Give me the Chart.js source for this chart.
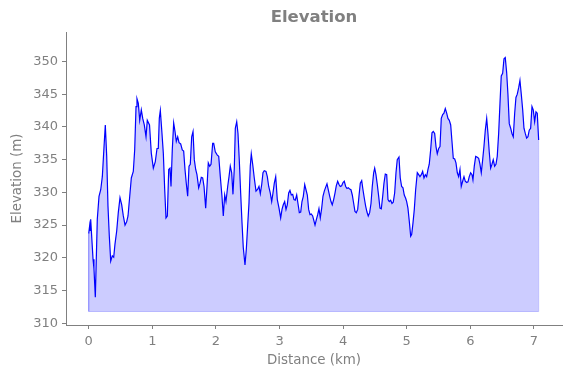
<!DOCTYPE html>
<html>
<head>
<meta charset="utf-8">
<script src="https://cdn.jsdelivr.net/npm/chart.js@4"></script>
<style>
  html, body { margin: 0; padding: 0; background: #fff; }
</style>
</head>
<body>
<canvas id="elevationChart" width="571" height="378"></canvas>
<script>
// distance along track (km) and elevation (m)
const distances = [
  0.000, 0.016, 0.025, 0.031, 0.068, 0.083, 0.104, 0.135, 0.162, 0.189, 0.214, 0.241, 0.261, 0.283, 0.303, 0.324,
  0.346, 0.371, 0.393, 0.413, 0.440, 0.465, 0.492, 0.519, 0.544, 0.571, 0.597, 0.618, 0.645, 0.670, 0.701, 0.723,
  0.744, 0.759, 0.780, 0.802, 0.827, 0.849, 0.874, 0.901, 0.921, 0.956, 0.984, 1.016, 1.047, 1.074, 1.094, 1.110,
  1.126, 1.152, 1.173, 1.195, 1.215, 1.236, 1.258, 1.278, 1.294, 1.314, 1.336, 1.357, 1.377, 1.399, 1.420, 1.446,
  1.471, 1.493, 1.514, 1.534, 1.556, 1.577, 1.597, 1.619, 1.640, 1.660, 1.682, 1.702, 1.729, 1.750, 1.770, 1.792,
  1.813, 1.839, 1.860, 1.880, 1.902, 1.923, 1.949, 1.965, 1.990, 2.022, 2.044, 2.069, 2.095, 2.116, 2.138, 2.158,
  2.185, 2.206, 2.226, 2.248, 2.268, 2.289, 2.305, 2.327, 2.347, 2.367, 2.389, 2.410, 2.430, 2.457, 2.478, 2.499,
  2.520, 2.540, 2.556, 2.578, 2.603, 2.630, 2.657, 2.677, 2.698, 2.720, 2.740, 2.760, 2.787, 2.808, 2.830, 2.855,
  2.877, 2.897, 2.918, 2.940, 2.965, 2.992, 3.018, 3.039, 3.059, 3.081, 3.102, 3.122, 3.144, 3.164, 3.185, 3.207,
  3.227, 3.248, 3.270, 3.290, 3.311, 3.333, 3.353, 3.374, 3.396, 3.416, 3.437, 3.458, 3.479, 3.499, 3.521, 3.542,
  3.558, 3.578, 3.600, 3.620, 3.641, 3.663, 3.683, 3.704, 3.726, 3.746, 3.767, 3.789, 3.809, 3.829, 3.851, 3.872,
  3.892, 3.914, 3.935, 3.955, 3.977, 3.998, 4.018, 4.040, 4.061, 4.081, 4.103, 4.123, 4.144, 4.166, 4.186, 4.207,
  4.229, 4.249, 4.270, 4.292, 4.312, 4.333, 4.354, 4.375, 4.395, 4.417, 4.438, 4.458, 4.480, 4.496, 4.516, 4.537,
  4.559, 4.579, 4.600, 4.622, 4.642, 4.663, 4.685, 4.705, 4.725, 4.747, 4.768, 4.788, 4.810, 4.831, 4.851, 4.878,
  4.898, 4.920, 4.941, 4.961, 4.983, 4.999, 5.019, 5.040, 5.062, 5.078, 5.098, 5.119, 5.140, 5.166, 5.188, 5.208,
  5.229, 5.250, 5.271, 5.292, 5.313, 5.334, 5.354, 5.376, 5.397, 5.417, 5.439, 5.460, 5.480, 5.502, 5.523, 5.543,
  5.565, 5.585, 5.606, 5.628, 5.648, 5.669, 5.691, 5.711, 5.732, 5.754, 5.774, 5.795, 5.816, 5.837, 5.857, 5.879,
  5.900, 5.920, 5.942, 5.963, 5.983, 6.005, 6.026, 6.041, 6.062, 6.084, 6.104, 6.131, 6.151, 6.172, 6.194, 6.214,
  6.235, 6.257, 6.277, 6.297, 6.319, 6.340, 6.360, 6.382, 6.403, 6.423, 6.445, 6.466, 6.486, 6.508, 6.529, 6.549,
  6.571, 6.591, 6.612, 6.634, 6.654, 6.675, 6.697, 6.717, 6.738, 6.760, 6.780, 6.801, 6.823, 6.843, 6.864, 6.885,
  6.906, 6.926, 6.948, 6.969, 6.989, 7.011, 7.032, 7.052, 7.074
];
const elevations = [
  323.7, 325.0, 324.2, 325.9, 319.8, 318.3, 314.0, 325.9, 329.4, 330.4, 332.4, 337.0, 340.3, 335.5, 327.9, 323.3,
  319.5, 320.3, 320.1, 322.1, 324.1, 326.9, 329.2, 328.1, 326.4, 325.0, 325.5, 326.4, 329.4, 332.2, 333.2, 336.5,
  343.1, 344.3, 343.6, 341.0, 342.6, 341.3, 340.3, 338.5, 341.0, 340.3, 336.0, 333.7, 334.7, 336.7, 336.7, 341.3,
  342.5, 339.0, 336.0, 330.4, 326.1, 326.4, 333.5, 333.7, 330.9, 336.5, 340.6, 339.3, 337.8, 338.5, 337.6, 337.4,
  336.5, 336.3, 333.5, 331.4, 329.4, 334.0, 334.3, 338.5, 339.3, 335.0, 333.5, 332.7, 330.7, 331.4, 332.3, 332.2,
  330.9, 327.6, 330.9, 334.5, 334.0, 334.3, 337.5, 337.5, 336.2, 335.7, 335.5, 332.4, 329.4, 326.4, 329.6, 328.6,
  330.9, 332.4, 334.0, 333.0, 329.7, 333.7, 339.8, 340.8, 339.0, 335.0, 329.9, 325.4, 321.6, 318.9, 321.3, 324.9,
  328.4, 334.0, 335.9, 334.3, 332.2, 330.2, 330.5, 330.9, 329.8, 331.2, 333.0, 333.3, 333.2, 332.4, 330.9, 329.9,
  328.6, 329.9, 331.4, 332.4, 328.9, 327.6, 326.1, 327.4, 328.1, 328.6, 327.4, 328.1, 329.9, 330.3, 329.6, 329.7,
  328.9, 328.8, 329.6, 328.3, 326.9, 327.0, 328.6, 329.4, 331.2, 330.4, 329.6, 327.4, 326.6, 326.7, 326.4, 325.6,
  325.0, 325.8, 326.6, 327.5, 326.1, 327.6, 329.4, 330.2, 330.8, 331.3, 330.4, 329.4, 328.6, 328.1, 328.9, 329.9,
  331.0, 331.7, 331.2, 330.9, 331.0, 331.5, 331.7, 330.9, 330.6, 330.7, 330.5, 330.4, 329.6, 328.3, 327.1, 326.9,
  327.4, 329.4, 331.4, 331.8, 330.4, 329.1, 327.9, 327.0, 326.4, 326.9, 328.3, 330.9, 333.0, 333.7, 332.7, 331.2,
  329.4, 327.6, 327.5, 329.4, 331.4, 332.8, 332.7, 328.9, 328.6, 328.8, 328.3, 328.5, 329.9, 333.0, 335.0, 335.4,
  332.2, 330.9, 330.7, 329.6, 329.1, 328.6, 327.6, 325.6, 323.3, 323.6, 325.3, 327.4, 330.4, 333.0, 332.7, 332.4,
  332.7, 333.2, 332.2, 332.7, 332.4, 333.5, 334.3, 336.5, 339.1, 339.3, 339.0, 337.0, 335.9, 336.7, 337.0, 341.3,
  341.9, 342.1, 342.8, 342.1, 341.3, 341.0, 340.3, 337.8, 335.2, 335.1, 334.5, 333.0, 332.4, 333.5, 330.9, 331.7,
  332.4, 331.7, 331.5, 331.6, 332.4, 333.0, 332.7, 331.9, 334.0, 335.5, 335.4, 335.2, 334.3, 333.0, 335.0, 337.0,
  339.5, 341.3, 339.0, 336.2, 333.7, 334.3, 335.0, 334.0, 334.3, 335.5, 339.0, 343.6, 347.8, 348.2, 350.4, 350.6,
  348.3, 345.0, 340.5, 339.8, 339.0, 338.5, 342.1, 344.5, 345.0, 346.0, 347.1, 345.0, 342.6, 339.8, 339.0, 338.3,
  338.5, 339.5, 339.8, 343.1, 342.6, 340.8, 342.3, 342.1, 338.0
];
const fillBase = 311.8;   // bottom of the shaded area
const xTicks = [0, 1, 2, 3, 4, 5, 6, 7];
const yTicks = [310, 315, 320, 325, 330, 335, 340, 345, 350];
const xRange = [-0.357, 7.441];
const yRange = [309.74, 354.5];

const textGray = '#808080';
const fontFamily = '"DejaVu Sans", sans-serif';

const profile = distances.map((d, i) => ({ x: d, y: elevations[i] }));
const last = distances.length - 1;
// outline of the shaded polygon (sides + bottom)
const fillEdge = [
  { x: distances[0], y: elevations[0] },
  { x: distances[0], y: fillBase },
  { x: distances[last], y: fillBase },
  { x: distances[last], y: elevations[last] }
];

const ctx = document.getElementById('elevationChart').getContext('2d');
new Chart(ctx, {
  type: 'line',
  data: {
    datasets: [
      {
        label: 'Elevation',
        data: profile,
        borderColor: '#0000ff',
        borderWidth: 1.2,
        backgroundColor: 'rgba(0, 0, 255, 0.2)',
        fill: { value: fillBase },
        pointRadius: 0,
        tension: 0
      },
      {
        label: 'edge',
        data: fillEdge,
        borderColor: 'rgba(0, 0, 255, 0.2)',
        borderWidth: 1,
        fill: false,
        pointRadius: 0,
        tension: 0
      }
    ]
  },
  options: {
    responsive: false,
    animation: false,
    devicePixelRatio: 1,
    layout: { padding: 0 },
    plugins: {
      legend: { display: false },
      tooltip: { enabled: false },
      title: {
        display: true,
        fullSize: false,   // centre over the plot area, not the whole canvas
        text: 'Elevation',
        color: textGray,
        font: { family: fontFamily, size: 16.5, weight: 'bold' },
        padding: { top: 8, bottom: 4.2 }
      }
    },
    scales: {
      x: {
        type: 'linear',
        min: xRange[0],
        max: xRange[1],
        afterBuildTicks: s => { s.ticks = xTicks.map(v => ({ value: v })); },
        afterFit: s => { s.height = 53; },
        ticks: {
          color: textGray,
          font: { family: fontFamily, size: 13 },
          padding: 5,
          maxRotation: 0,
          autoSkip: false
        },
        grid: { drawOnChartArea: false, drawTicks: true, tickLength: 4, color: textGray },
        border: { display: true, color: textGray },
        title: {
          display: true,
          text: 'Distance (km)',
          color: textGray,
          font: { family: fontFamily, size: 13.4 },
          padding: { top: 0, bottom: 9 }
        }
      },
      y: {
        type: 'linear',
        min: yRange[0],
        max: yRange[1],
        afterBuildTicks: s => { s.ticks = yTicks.map(v => ({ value: v })); },
        afterFit: s => { s.width = 66; },
        ticks: {
          color: textGray,
          font: { family: fontFamily, size: 13 },
          padding: 4,
          autoSkip: false
        },
        grid: { drawOnChartArea: false, drawTicks: true, tickLength: 4, color: textGray },
        border: { display: true, color: textGray },
        title: {
          display: true,
          text: 'Elevation (m)',
          color: textGray,
          font: { family: fontFamily, size: 13.4 },
          padding: { top: 9, bottom: 0 }
        }
      },
      yRight: {
        type: 'linear',
        position: 'right',
        display: true,
        afterFit: s => { s.width = 9; },
        ticks: { display: false },
        grid: { display: false },
        border: { display: false }
      }
    }
  }
});
</script>
</body>
</html>
